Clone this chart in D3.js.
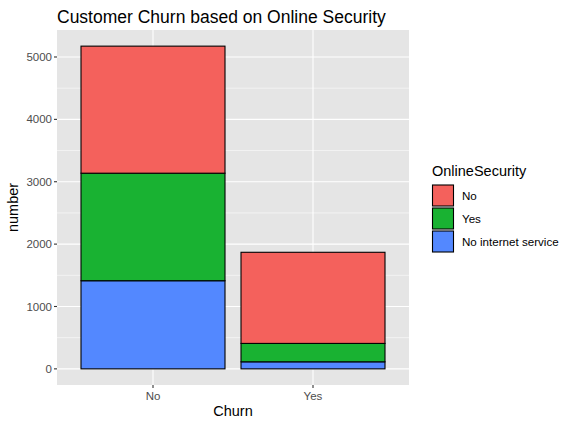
<!DOCTYPE html>
<html>
<head>
<meta charset="utf-8">
<script src="https://cdn.jsdelivr.net/npm/d3@7"></script>
<style>
	body {margin: 0; background: #fff;}
	text {font-family: "Liberation Sans", Arial, sans-serif;}
</style>
</head>
<body>
<svg id="chart" width="574" height="427"></svg>
<script>
var churn = ['No', 'Yes'];
// Stack order bottom to top.
var security = ['No internet service', 'Yes', 'No'];
var countsNoInternet = [1413, 113];
var countsYes = [1724, 295];
var countsNo = [2037, 1461];
var yTicks = [0, 1000, 2000, 3000, 4000, 5000];
// Legend order as shown.
var legendOrder = ['No', 'Yes', 'No internet service'];
var colors = {'No': '#f4615c', 'Yes': '#19b232', 'No internet service': '#5388ff'};

var svg = d3.select('#chart');
var panel = {left: 57, right: 409, top: 30, bottom: 385};

var rows = churn.map(function(c, i) {
	return {churn: c, 'No internet service': countsNoInternet[i], 'Yes': countsYes[i], 'No': countsNo[i]};});
var series = d3.stack().keys(security)(rows);
var maxTotal = d3.max(rows, function(r) {return r['No internet service'] + r.Yes + r.No;});

var pad = maxTotal * 0.05;
var y = d3.scaleLinear().domain([-pad, maxTotal + pad]).range([panel.bottom, panel.top]);
// Discrete expansion of 0.6 on each side, bar width 0.9.
var x = d3.scaleLinear().domain([0.4, churn.length + 0.6]).range([panel.left, panel.right]);
var barW = x(1.45) - x(0.55);

svg.append('rect')
	.attr('x', panel.left).attr('y', panel.top)
	.attr('width', panel.right - panel.left).attr('height', panel.bottom - panel.top)
	.attr('fill', '#e5e5e5');

// Minor grid.
yTicks.slice(0, -1).forEach(function(t) {
	svg.append('line')
		.attr('x1', panel.left).attr('x2', panel.right)
		.attr('y1', y(t + 500)).attr('y2', y(t + 500))
		.attr('stroke', '#fff').attr('stroke-width', 0.55);});
// Major grid.
yTicks.forEach(function(t) {
	svg.append('line')
		.attr('x1', panel.left).attr('x2', panel.right)
		.attr('y1', y(t)).attr('y2', y(t))
		.attr('stroke', '#fff').attr('stroke-width', 1.1);});
churn.forEach(function(c, i) {
	svg.append('line')
		.attr('x1', x(i + 1)).attr('x2', x(i + 1))
		.attr('y1', panel.top).attr('y2', panel.bottom)
		.attr('stroke', '#fff').attr('stroke-width', 1.1);});

// Bars.
series.forEach(function(s) {
	svg.append('g').selectAll('rect').data(s).enter()
		.append('rect')
		.attr('x', function(d, i) {return x(i + 1) - barW / 2;})
		.attr('width', barW)
		.attr('y', function(d) {return y(d[1]);})
		.attr('height', function(d) {return y(d[0]) - y(d[1]);})
		.attr('fill', colors[s.key])
		.attr('stroke', 'black')
		.attr('stroke-width', 1.1);});

// Y axis.
var yAxis = svg.append('g');
yTicks.forEach(function(t) {
	yAxis.append('line')
		.attr('x1', panel.left - 3).attr('x2', panel.left)
		.attr('y1', y(t)).attr('y2', y(t))
		.attr('stroke', '#333').attr('stroke-width', 1.1);
	yAxis.append('text')
		.attr('x', panel.left - 5).attr('y', y(t))
		.attr('dy', '0.35em')
		.attr('text-anchor', 'end')
		.style('font-size', '11.5px')
		.attr('fill', '#4d4d4d')
		.text(t);});

// X axis.
churn.forEach(function(c, i) {
	svg.append('line')
		.attr('x1', x(i + 1)).attr('x2', x(i + 1))
		.attr('y1', panel.bottom).attr('y2', panel.bottom + 3)
		.attr('stroke', '#333').attr('stroke-width', 1.1);
	svg.append('text')
		.attr('x', x(i + 1)).attr('y', panel.bottom + 15)
		.attr('text-anchor', 'middle')
		.style('font-size', '11.5px')
		.attr('fill', '#4d4d4d')
		.text(c);});

svg.append('text')
	.attr('x', (panel.left + panel.right) / 2).attr('y', 416)
	.attr('text-anchor', 'middle')
	.style('font-size', '14.5px')
	.attr('fill', 'black')
	.text('Churn');
svg.append('text')
	.attr('transform', 'translate(18,' + ((panel.top + panel.bottom) / 2) + ')rotate(-90)')
	.attr('text-anchor', 'middle')
	.style('font-size', '14.5px')
	.attr('fill', 'black')
	.text('number');

svg.append('text')
	.attr('x', panel.left).attr('y', 22.5)
	.style('font-size', '17.5px')
	.attr('fill', 'black')
	.text('Customer Churn based on Online Security');

// Legend.
var legend = svg.append('g').attr('transform', 'translate(432,0)');
legend.append('text')
	.attr('x', 0).attr('y', 176)
	.style('font-size', '14.5px')
	.attr('fill', 'black')
	.text('OnlineSecurity');
legendOrder.forEach(function(k, i) {
	legend.append('rect')
		.attr('x', 0.5).attr('y', 185 + i * 23)
		.attr('width', 21).attr('height', 21)
		.attr('fill', colors[k])
		.attr('stroke', 'black')
		.attr('stroke-width', 1.1);
	legend.append('text')
		.attr('x', 30).attr('y', 185 + i * 23 + 10.5)
		.attr('dy', '0.35em')
		.style('font-size', '11.6px')
		.attr('fill', 'black')
		.text(k);});
</script>
</body>
</html>
